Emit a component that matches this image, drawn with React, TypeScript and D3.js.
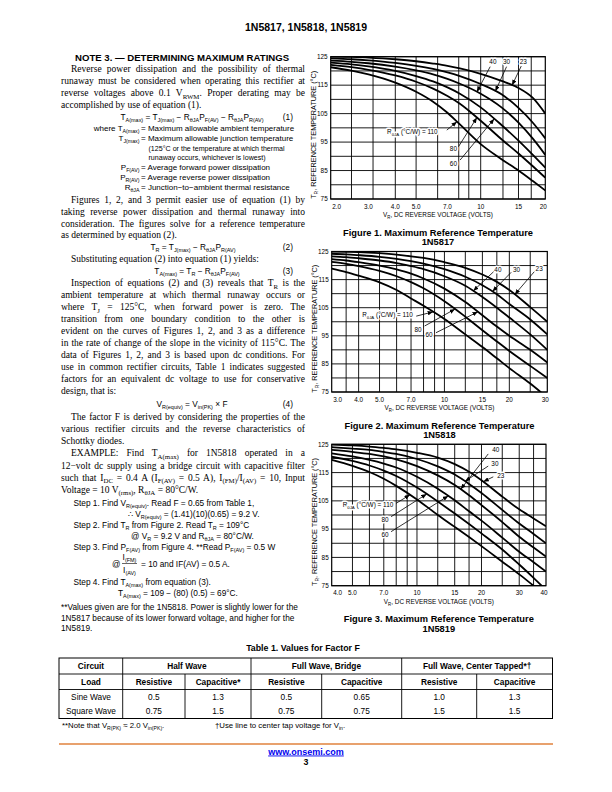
import React, { useRef, useLayoutEffect } from 'react';
import * as d3 from 'd3';

const SANS = "'Liberation Sans', Arial, Helvetica, sans-serif";
const SERIF = "'Liberation Serif', 'Times New Roman', serif";

// ---------- chart data ----------
const R_LIST = [23, 30, 40, 60, 80, 110];
const yTickValues = [75, 85, 95, 105, 115, 125];
const yGridValues = [75, 80, 85, 90, 95, 100, 105, 110, 115, 120, 125];

const fig1Domain = [2, 20];
const fig1TickValues = [2, 3, 4, 5, 7, 10, 15, 20];
const fig1TickLabels = ['2.0', '3.0', '4.0', '5.0', '7.0', '10', '15', '20'];
const fig1GridValues = [2.5, 3.15, 4, 5, 6.3, 7.9, 8.8, 10, 12.7, 15, 17.2];
const fig1Volts = [2, 2.5, 3, 4, 5, 6, 7, 8, 10, 12.5, 15, 17.5, 20];
const fig1T23 = [125, 124.95, 124.7, 124.1, 123.4, 122.6, 121.8, 120.9, 119, 116.5, 114, 110.5, 105];
const fig1T30 = [124.4, 124.1, 123.7, 122.8, 121.8, 120.7, 119.5, 118.2, 115.4, 111.8, 107, 101.8, 96.3];
const fig1T40 = [123.6, 123.2, 122.7, 121.5, 120.2, 118.8, 117.2, 115.5, 112, 107.2, 101.8, 96.2, 90.5];
const fig1T60 = [122.9, 122.3, 121.6, 120, 118.2, 116.3, 114.2, 112, 107.2, 101, 95.5, 90.5, 86];
const fig1T80 = [122.1, 121.3, 120.4, 118.4, 116.2, 113.8, 111.2, 108.5, 102.5, 96, 91, 86.5, 82.5];
const fig1T110 = [121.3, 120.1, 118.8, 115.9, 112.7, 109.2, 105.3, 101.2, 94.3, 89, 85, 81.3, 78];

const fig2Domain = [3, 30];
const fig2TickValues = [3, 4, 5, 7, 10, 15, 20, 30];
const fig2TickLabels = ['3.0', '4.0', '5.0', '7.0', '10', '15', '20', '30'];
const fig2GridValues = [3.5, 4, 5, 6, 7, 8, 9, 10, 12.5, 15, 17.5, 20, 25];
const fig2Volts = [3, 3.5, 4, 5, 6, 7, 8, 10, 12.5, 15, 17.5, 20, 25, 30];
const fig2T23 = [125, 124.9, 124.8, 124.4, 123.9, 123.3, 122.7, 121.2, 119.2, 116.8, 114.2, 111.3, 105.2, 100];
const fig2T30 = [124.2, 124, 123.7, 123.1, 122.4, 121.6, 120.7, 118.7, 116, 113, 109.8, 106.3, 100.8, 95.5];
const fig2T40 = [123.3, 123, 122.6, 121.8, 120.9, 119.8, 118.7, 116.2, 112.8, 108.8, 105, 101.5, 95.5, 90];
const fig2T60 = [122.3, 121.8, 121.2, 120, 118.6, 117.1, 115.4, 111.8, 107, 102.3, 98.3, 95, 90, 85.5];
const fig2T80 = [121.3, 120.6, 119.8, 118.1, 116.2, 114.1, 111.9, 107.3, 101.8, 97, 93, 89.6, 84.3, 80];
const fig2T110 = [118.9, 117.7, 116.4, 114, 111.3, 108.3, 105.7, 101, 95.5, 91, 87, 83.5, 78, 73];

const fig3Domain = [4, 40];
const fig3TickValues = [4, 5, 7, 10, 15, 20, 30, 40];
const fig3TickLabels = ['4.0', '5.0', '7.0', '10', '15', '20', '30', '40'];
const fig3GridValues = [5, 6, 7, 8, 9, 10, 12.5, 15, 17.5, 20, 25, 30, 35];
const fig3Volts = [4, 5, 6, 7, 8, 10, 12.5, 15, 17.5, 20, 25, 30, 35, 40];
const fig3T23 = [124.9, 124.6, 124.2, 123.7, 123.2, 122, 120.3, 118, 115.3, 112.3, 106.5, 102, 98.8, 96];
const fig3T30 = [124, 123.5, 123, 122.3, 121.6, 119.8, 117.2, 114.3, 111, 107.8, 101.8, 97, 93.3, 90];
const fig3T40 = [123, 122.3, 121.6, 120.7, 119.7, 117.3, 114, 110.6, 107, 103.5, 97.5, 92.3, 88.5, 85.3];
const fig3T60 = [121.8, 120.7, 119.5, 118.2, 116.8, 113.5, 109.3, 105.2, 101.3, 98, 92, 87, 83.3, 80];
const fig3T80 = [120.6, 119.1, 117.5, 115.7, 113.8, 109.7, 104.8, 100.5, 96.8, 93.5, 87.8, 82.5, 77.8, 73.5];
const fig3T110 = [119.5, 117.4, 115.2, 112.8, 110.3, 105.5, 100, 95.8, 92.2, 89, 83.5, 79, 75, 71.5];

// annotations: label text, label (v,T), arrow start (v,T), target curve R at voltage tv
const fig1Notes = [
  { text: '40', lv: 11.4, lt: 123.2, anchor: 'middle', fv: 11.07, ft: 121.5, r: 40, tv: 9.6 },
  { text: '30', lv: 13.2, lt: 123.2, anchor: 'middle', fv: 13.2, ft: 121.5, r: 30, tv: 11.7 },
  { text: '23', lv: 15.8, lt: 123.2, anchor: 'middle', fv: 15.45, ft: 121.7, r: 23, tv: 14.0 },
  { text: 'R_{θJA} (°C/W) = 110', lv: 6.3, lt: 98.6, anchor: 'end', fv: 6.95, ft: 99.2, r: 110, tv: 7.75 },
  { text: '80', lv: 7.46, lt: 92.5, anchor: 'middle', fv: 7.88, ft: 93.4, r: 80, tv: 9.6 },
  { text: '60', lv: 7.46, lt: 87.5, anchor: 'middle', fv: 8.02, ft: 88.7, r: 60, tv: 11.56 },
];
const fig2Notes = [
  { text: '40', lv: 17.7, lt: 118.7, anchor: 'middle', fv: 16.9, ft: 117.8, r: 40, tv: 13.6 },
  { text: '30', lv: 21.6, lt: 118.7, anchor: 'middle', fv: 20.4, ft: 117.6, r: 30, tv: 16.7 },
  { text: '23', lv: 27.5, lt: 119.0, anchor: 'middle', fv: 26.1, ft: 117.8, r: 23, tv: 21.2 },
  { text: 'R_{θJA} (°C/W) = 110', lv: 7.13, lt: 102.4, anchor: 'end', fv: 7.4, ft: 102.0, r: 110, tv: 8.87 },
  { text: '80', lv: 7.54, lt: 97.3, anchor: 'middle', fv: 8.1, ft: 98.5, r: 80, tv: 11.2 },
  { text: '60', lv: 8.49, lt: 95.3, anchor: 'middle', fv: 9.14, ft: 96.1, r: 60, tv: 14.3 },
];
const fig3Notes = [
  { text: '40', lv: 23.3, lt: 123.0, anchor: 'middle', fv: 21.5, ft: 121.6, r: 40, tv: 16.0 },
  { text: '30', lv: 23.1, lt: 118.3, anchor: 'middle', fv: 21.5, ft: 117.3, r: 30, tv: 16.76 },
  { text: '23', lv: 24.6, lt: 113.9, anchor: 'middle', fv: 22.7, ft: 113.5, r: 23, tv: 20.4 },
  { text: 'R_{θJA} (°C/W) = 110', lv: 7.75, lt: 103.5, anchor: 'end', fv: 7.98, ft: 104.1, r: 110, tv: 9.27 },
  { text: '80', lv: 7.1, lt: 98.2, anchor: 'middle', fv: 7.57, ft: 99.4, r: 80, tv: 11.1 },
  { text: '60', lv: 7.1, lt: 93.2, anchor: 'middle', fv: 7.57, ft: 94.1, r: 60, tv: 14.0 },
];

// table data
const tableCircuits = ['Half Wave', 'Full Wave, Bridge', 'Full Wave, Center Tapped*†'];
const tableLoads = ['Resistive', 'Capacitive*', 'Resistive', 'Capacitive', 'Resistive', 'Capacitive'];
const tableSine = ['0.5', '1.3', '0.5', '0.65', '1.0', '1.3'];
const tableSquare = ['0.75', '1.5', '0.75', '0.75', '1.5', '1.5'];

// ---------- helpers ----------
type Seg = { t: string; sub: boolean };
function parseRich(s: string): Seg[] {
  const out: Seg[] = [];
  const re = /_\{([^}]*)\}/g;
  let last = 0;
  let m: RegExpExecArray | null;
  while ((m = re.exec(s))) {
    if (m.index > last) out.push({ t: s.slice(last, m.index), sub: false });
    out.push({ t: m[1], sub: true });
    last = re.lastIndex;
  }
  if (last < s.length) out.push({ t: s.slice(last), sub: false });
  return out;
}

function Rich(props: any) {
  const { x, y, s, size, family = SANS, weight, anchor, fill = '#000', transform, halo, tl, textRef, subScale = 0.68 } = props;
  const segs = parseRich(s);
  const shift = size * 0.3;
  let cur = 0;
  const haloProps = halo ? { stroke: '#fff', strokeWidth: 3, paintOrder: 'stroke', strokeLinejoin: 'round' } : {};
  return (
    <text ref={textRef} x={x} y={y} fontSize={size} fontFamily={family} fontWeight={weight} textAnchor={anchor} fill={fill}
      textLength={tl} lengthAdjust={tl ? 'spacingAndGlyphs' : undefined} transform={transform} {...haloProps}>
      {segs.map((sg, i) => {
        const target = sg.sub ? shift : 0;
        const dy = target - cur;
        cur = target;
        return (
          <tspan key={i} dy={dy !== 0 ? dy : undefined} fontSize={sg.sub ? size * subScale : undefined}>{sg.t}</tspan>
        );
      })}
    </text>
  );
}

function Chart(props: any) {
  const { id, frame, domain, volts, temps, tickValues, tickLabels, gridValues, notes, caption, part } = props;
  const x = d3.scaleLog().domain(domain).range([frame.left, frame.right]);
  const y = d3.scaleLinear().domain([75, 125]).range([frame.bottom, frame.top]);
  const line = d3.line<[number, number]>().x(d => x(d[0])).y(d => y(d[1])).curve(d3.curveMonotoneX);
  const tAt = (r: number, v: number) => {
    const ts: number[] = temps[r];
    for (let i = 0; i < volts.length - 1; i++) {
      if (v >= volts[i] && v <= volts[i + 1]) {
        const f = (Math.log(v) - Math.log(volts[i])) / (Math.log(volts[i + 1]) - Math.log(volts[i]));
        return ts[i] + (ts[i + 1] - ts[i]) * f;
      }
    }
    return ts[ts.length - 1];
  };
  const cx = (frame.left + frame.right) / 2;
  const cy = (frame.top + frame.bottom) / 2;
  return (
    <g>
      <defs>
        <clipPath id={id}>
          <rect x={frame.left} y={frame.top} width={frame.right - frame.left} height={frame.bottom - frame.top} />
        </clipPath>
      </defs>
      {yGridValues.map(t => (
        <line key={'h' + t} x1={frame.left} x2={frame.right} y1={y(t)} y2={y(t)} stroke="#000" strokeWidth={0.9} />
      ))}
      {gridValues.map((v: number) => (
        <line key={'v' + v} x1={x(v)} x2={x(v)} y1={frame.top} y2={frame.bottom} stroke="#000" strokeWidth={0.9} />
      ))}
      <g clipPath={`url(#${id})`}>
        {R_LIST.map(r => (
          <path key={r} d={line(volts.map((v: number, i: number) => [v, temps[r][i]]) as any) || ''}
            fill="none" stroke="#000" strokeWidth={1.8} />
        ))}
      </g>
      <rect x={frame.left} y={frame.top} width={frame.right - frame.left} height={frame.bottom - frame.top}
        fill="none" stroke="#000" strokeWidth={1.2} />
      {notes.map((n: any, i: number) => (
        <Rich key={'n' + i} x={x(n.lv)} y={y(n.lt) + 2.3} s={n.text} size={6.4} anchor={n.anchor} halo />
      ))}
      {notes.map((n: any, i: number) => (
        <line key={'a' + i} x1={x(n.fv)} y1={y(n.ft)} x2={x(n.tv)} y2={y(tAt(n.r, n.tv))}
          stroke="#000" strokeWidth={0.8} markerEnd="url(#arrowHead)" />
      ))}
      {yTickValues.map(t => (
        <text key={'yt' + t} x={frame.left - 3} y={y(t) + 2.3} fontSize={6.4} fontFamily={SANS} textAnchor="end">{t}</text>
      ))}
      {tickValues.map((v: number, i: number) => (
        <text key={'xt' + v} x={x(v)} y={frame.bottom + 9.5} fontSize={6.4} fontFamily={SANS}
          textAnchor={i === 0 ? 'start' : i === tickValues.length - 1 ? 'end' : 'middle'}
          dx={i === 0 ? 1.5 : i === tickValues.length - 1 ? 1.5 : 0}>{tickLabels[i]}</text>
      ))}
      <Rich x={cx} y={frame.bottom + 18} s="V_{R}, DC REVERSE VOLTAGE (VOLTS)" size={6.8} anchor="middle" tl={110} />
      <Rich x={0} y={0} s="T_{R}, REFERENCE TEMPERATURE (°C)" size={6.8} anchor="middle" tl={128}
        transform={`translate(${frame.left - 15},${cy + 7}) rotate(-90)`} />
      <text x={cx} y={frame.bottom + 36.5} fontSize={9.3} fontWeight="bold" fontFamily={SANS} textAnchor="middle">{caption}</text>
      <text x={cx} y={frame.bottom + 46} fontSize={9.3} fontWeight="bold" fontFamily={SANS} textAnchor="middle">{part}</text>
    </g>
  );
}

// body text line, justified through word spacing
function B(props: any) {
  const { y, s, x = 61, w = 244, j = true, ind = false } = props;
  const xx = ind ? x + 10 : x;
  const ww = ind ? w - 10 : w;
  const ref = useRef<SVGTextElement>(null);
  useLayoutEffect(() => {
    const el = ref.current;
    if (!el || !j) return;
    el.style.wordSpacing = '0px';
    const len = el.getComputedTextLength();
    const spaces = ((el.textContent || '').match(/ /g) || []).length;
    if (spaces > 0) el.style.wordSpacing = `${(ww - len) / spaces}px`;
  }, [s, ww, j]);
  return <Rich textRef={ref} x={xx} y={y} s={s} size={9.5} family={SERIF} subScale={0.72} />;
}
function S(props: any) {
  const { x, y, s, anchor, size = 8.3 } = props;
  return <Rich x={x} y={y} s={s} size={size} anchor={anchor} subScale={0.66} />;
}

export default function App() {
  const fig1Temps: any = { 23: fig1T23, 30: fig1T30, 40: fig1T40, 60: fig1T60, 80: fig1T80, 110: fig1T110 };
  const fig2Temps: any = { 23: fig2T23, 30: fig2T30, 40: fig2T40, 60: fig2T60, 80: fig2T80, 110: fig2T110 };
  const fig3Temps: any = { 23: fig3T23, 30: fig3T30, 40: fig3T40, 60: fig3T60, 80: fig3T80, 110: fig3T110 };

  // table geometry
  const tL = 59, tR = 552.5;
  const rowY = [658, 674, 689.5, 718.5];
  const mainCols = [tL, 122.7, 251, 401.7, tR];
  const subCols = [122.7, 185, 251, 321.7, 401.7, 476.7, tR];
  const subCenters = subCols.slice(0, 6).map((c, i) => (c + subCols[i + 1]) / 2);
  const TF = 8.3;
  const DF = 8.0;

  return (
    <svg width={612} height={792} style={{ position: 'absolute', left: 0, top: 0, background: '#fff' }}>
      <defs>
        <marker id="arrowHead" viewBox="0 0 10 8" refX="10" refY="4" markerWidth="5.5" markerHeight="4.4"
          markerUnits="userSpaceOnUse" orient="auto">
          <path d="M0,0 L10,4 L0,8 z" fill="#000" />
        </marker>
      </defs>
      <rect x={0} y={0} width={612} height={792} fill="#fff" />

      <text x={306} y={31} fontSize={10.5} fontWeight="bold" fontFamily={SANS} textAnchor="middle">1N5817, 1N5818, 1N5819</text>

      {/* Left column */}
      <text x={75} y={60.5} fontSize={9.6} fontWeight="bold" fontFamily={SANS}>NOTE 3. — DETERMINING MAXIMUM RATINGS</text>
      <B y={72} ind s="Reverse power dissipation and the possibility of thermal" />
      <B y={84} s="runaway must be considered when operating this rectifier at" />
      <B y={96} s="reverse voltages above 0.1 V_{RWM}. Proper derating may be" />
      <B y={107.5} j={false} s="accomplished by use of equation (1)." />

      <S x={192} y={120} anchor="middle" s="T_{A(max)} = T_{J(max)} − R_{θJA}P_{F(AV)} − R_{θJA}P_{R(AV)}" />
      <S x={293} y={120} anchor="end" s="(1)" />
      <S x={139.5} y={130.5} anchor="end" size={DF} s="where T_{A(max)}" />
      <S x={141} y={130.5} size={DF} s="= Maximum allowable ambient temperature" />
      <S x={139.5} y={141} anchor="end" size={DF} s="T_{J(max)}" />
      <S x={141} y={141} size={DF} s="= Maximum allowable junction temperature" />
      <S x={148.5} y={150.5} size={7.1} s="(125°C or the temperature at which thermal" />
      <S x={148.5} y={160} size={7.1} s="runaway occurs, whichever is lowest)" />
      <S x={139.5} y={170} anchor="end" size={DF} s="P_{F(AV)}" />
      <S x={141} y={170} size={DF} s="= Average forward power dissipation" />
      <S x={139.5} y={179.5} anchor="end" size={DF} s="P_{R(AV)}" />
      <S x={141} y={179.5} size={DF} s="= Average reverse power dissipation" />
      <S x={139.5} y={189.5} anchor="end" size={DF} s="R_{θJA}" />
      <S x={141} y={189.5} size={DF} s="= Junction−to−ambient thermal resistance" />

      <B y={203} ind s="Figures 1, 2, and 3 permit easier use of equation (1) by" />
      <B y={215} s="taking reverse power dissipation and thermal runaway into" />
      <B y={226.5} s="consideration. The figures solve for a reference temperature" />
      <B y={238} j={false} s="as determined by equation (2)." />
      <S x={193} y={249.5} anchor="middle" s="T_{R} = T_{J(max)} − R_{θJA}P_{R(AV)}" />
      <S x={293} y={249.5} anchor="end" s="(2)" />
      <B y={261.5} ind j={false} s="Substituting equation (2) into equation (1) yields:" />
      <S x={197} y={274} anchor="middle" s="T_{A(max)} = T_{R} − R_{θJA}P_{F(AV)}" />
      <S x={293} y={274} anchor="end" s="(3)" />

      <B y={286} ind s="Inspection of equations (2) and (3) reveals that T_{R} is the" />
      <B y={298} s="ambient temperature at which thermal runaway occurs or" />
      <B y={310} s="where T_{J} = 125°C, when forward power is zero. The" />
      <B y={322} s="transition from one boundary condition to the other is" />
      <B y={334} s="evident on the curves of Figures 1, 2, and 3 as a difference" />
      <B y={346} s="in the rate of change of the slope in the vicinity of 115°C. The" />
      <B y={358} s="data of Figures 1, 2, and 3 is based upon dc conditions. For" />
      <B y={370} s="use in common rectifier circuits, Table 1 indicates suggested" />
      <B y={382} s="factors for an equivalent dc voltage to use for conservative" />
      <B y={394} j={false} s="design, that is:" />
      <S x={192} y={407} anchor="middle" s="V_{R(equiv)} = V_{in(PK)} × F" />
      <S x={293} y={407} anchor="end" s="(4)" />

      <B y={420} ind s="The factor F is derived by considering the properties of the" />
      <B y={432} s="various rectifier circuits and the reverse characteristics of" />
      <B y={443.5} j={false} s="Schottky diodes." />
      <B y={456} ind s="EXAMPLE: Find T_{A(max)} for 1N5818 operated in a" />
      <B y={468.5} s="12−volt dc supply using a bridge circuit with capacitive filter" />
      <B y={480.5} s="such that I_{DC} = 0.4 A (I_{F(AV)} = 0.5 A), I_{(FM)}/I_{(AV)} = 10, Input" />
      <B y={492.5} j={false} s="Voltage = 10 V_{(rms)}, R_{θJA} = 80°C/W." />

      <S x={73.5} y={505.5} s="Step 1. Find V_{R(equiv)}. Read F = 0.65 from Table 1," />
      <S x={128} y={516.5} s="∴ V_{R(equiv)} = (1.41)(10)(0.65) = 9.2 V." />
      <S x={73.5} y={527.5} s="Step 2. Find T_{R} from Figure 2. Read T_{R} = 109°C" />
      <S x={131} y={538.5} s="@ V_{R} = 9.2 V and R_{θJA} = 80°C/W." />
      <S x={73.5} y={549.5} s="Step 3. Find P_{F(AV)} from Figure 4. **Read P_{F(AV)} = 0.5 W" />
      <S x={112} y={566.5} s="@" />
      <S x={129.5} y={560} anchor="middle" s="I_{(FM)}" />
      <line x1={122} x2={137} y1={563.5} y2={563.5} stroke="#000" strokeWidth={0.6} />
      <S x={129.5} y={572.5} anchor="middle" s="I_{(AV)}" />
      <S x={141} y={566.5} s="= 10 and IF(AV) = 0.5 A." />
      <S x={73.5} y={585} s="Step 4. Find T_{A(max)} from equation (3)." />
      <S x={118} y={596} s="T_{A(max)} = 109 − (80) (0.5) = 69°C." />
      <S x={61} y={610} s="**Values given are for the 1N5818. Power is slightly lower for the" />
      <S x={61} y={620.5} s="1N5817 because of its lower forward voltage, and higher for the" />
      <S x={61} y={631} s="1N5819." />

      {/* Right column charts */}
      <Chart id="clip1" frame={{ left: 330.7, right: 545.3, top: 56.7, bottom: 199 }} domain={fig1Domain}
        volts={fig1Volts} temps={fig1Temps} tickValues={fig1TickValues} tickLabels={fig1TickLabels}
        gridValues={fig1GridValues} notes={fig1Notes}
        caption="Figure 1. Maximum Reference Temperature" part="1N5817" />
      <Chart id="clip2" frame={{ left: 331.7, right: 547.3, top: 251.5, bottom: 392 }} domain={fig2Domain}
        volts={fig2Volts} temps={fig2Temps} tickValues={fig2TickValues} tickLabels={fig2TickLabels}
        gridValues={fig2GridValues} notes={fig2Notes}
        caption="Figure 2. Maximum Reference Temperature" part="1N5818" />
      <Chart id="clip3" frame={{ left: 331.7, right: 546, top: 444.3, bottom: 585.7 }} domain={fig3Domain}
        volts={fig3Volts} temps={fig3Temps} tickValues={fig3TickValues} tickLabels={fig3TickLabels}
        gridValues={fig3GridValues} notes={fig3Notes}
        caption="Figure 3. Maximum Reference Temperature" part="1N5819" />

      {/* Table */}
      <text x={303} y={651} fontSize={8.8} fontWeight="bold" fontFamily={SANS} textAnchor="middle">Table 1. Values for Factor F</text>
      <rect x={tL} y={rowY[0]} width={tR - tL} height={rowY[3] - rowY[0]} fill="none" stroke="#000" strokeWidth={1} />
      <line x1={tL} x2={tR} y1={rowY[1]} y2={rowY[1]} stroke="#000" strokeWidth={0.9} />
      <line x1={tL} x2={tR} y1={rowY[2]} y2={rowY[2]} stroke="#000" strokeWidth={0.9} />
      {mainCols.slice(1, 4).map(c => (
        <line key={'mc' + c} x1={c} x2={c} y1={rowY[0]} y2={rowY[3]} stroke="#000" strokeWidth={0.9} />
      ))}
      {[185, 321.7, 476.7].map(c => (
        <line key={'sc' + c} x1={c} x2={c} y1={rowY[1]} y2={rowY[3]} stroke="#000" strokeWidth={0.9} />
      ))}
      <text x={91} y={668.5} fontSize={TF} fontWeight="bold" fontFamily={SANS} textAnchor="middle">Circuit</text>
      <text x={91} y={685} fontSize={TF} fontWeight="bold" fontFamily={SANS} textAnchor="middle">Load</text>
      <text x={91} y={700} fontSize={TF} fontFamily={SANS} textAnchor="middle">Sine Wave</text>
      <text x={91} y={714} fontSize={TF} fontFamily={SANS} textAnchor="middle">Square Wave</text>
      {tableCircuits.map((c, i) => (
        <text key={'tc' + i} x={(mainCols[i + 1] + mainCols[i + 2]) / 2} y={668.5} fontSize={TF} fontWeight="bold"
          fontFamily={SANS} textAnchor="middle">{c}</text>
      ))}
      {tableLoads.map((c, i) => (
        <text key={'tl' + i} x={subCenters[i]} y={685} fontSize={TF} fontWeight="bold" fontFamily={SANS} textAnchor="middle">{c}</text>
      ))}
      {tableSine.map((c, i) => (
        <text key={'ts' + i} x={subCenters[i]} y={700} fontSize={TF} fontFamily={SANS} textAnchor="middle">{c}</text>
      ))}
      {tableSquare.map((c, i) => (
        <text key={'tq' + i} x={subCenters[i]} y={714} fontSize={TF} fontFamily={SANS} textAnchor="middle">{c}</text>
      ))}
      <S x={62} y={727.5} size={7.8} s="**Note that V_{R(PK)} ≈ 2.0 V_{in(PK)}." />
      <S x={215} y={727.5} size={7.8} s="†Use line to center tap voltage for V_{in}." />

      {/* Footer */}
      <line x1={59} x2={553} y1={744} y2={744} stroke="#E0823D" strokeWidth={1.6} />
      <text x={306} y={754.5} fontSize={9} fontWeight="bold" fontFamily={SANS} textAnchor="middle" fill="#0000EE"
        textDecoration="underline">www.onsemi.com</text>
      <text x={306} y={765} fontSize={8.8} fontWeight="bold" fontFamily={SANS} textAnchor="middle">3</text>
    </svg>
  );
}
